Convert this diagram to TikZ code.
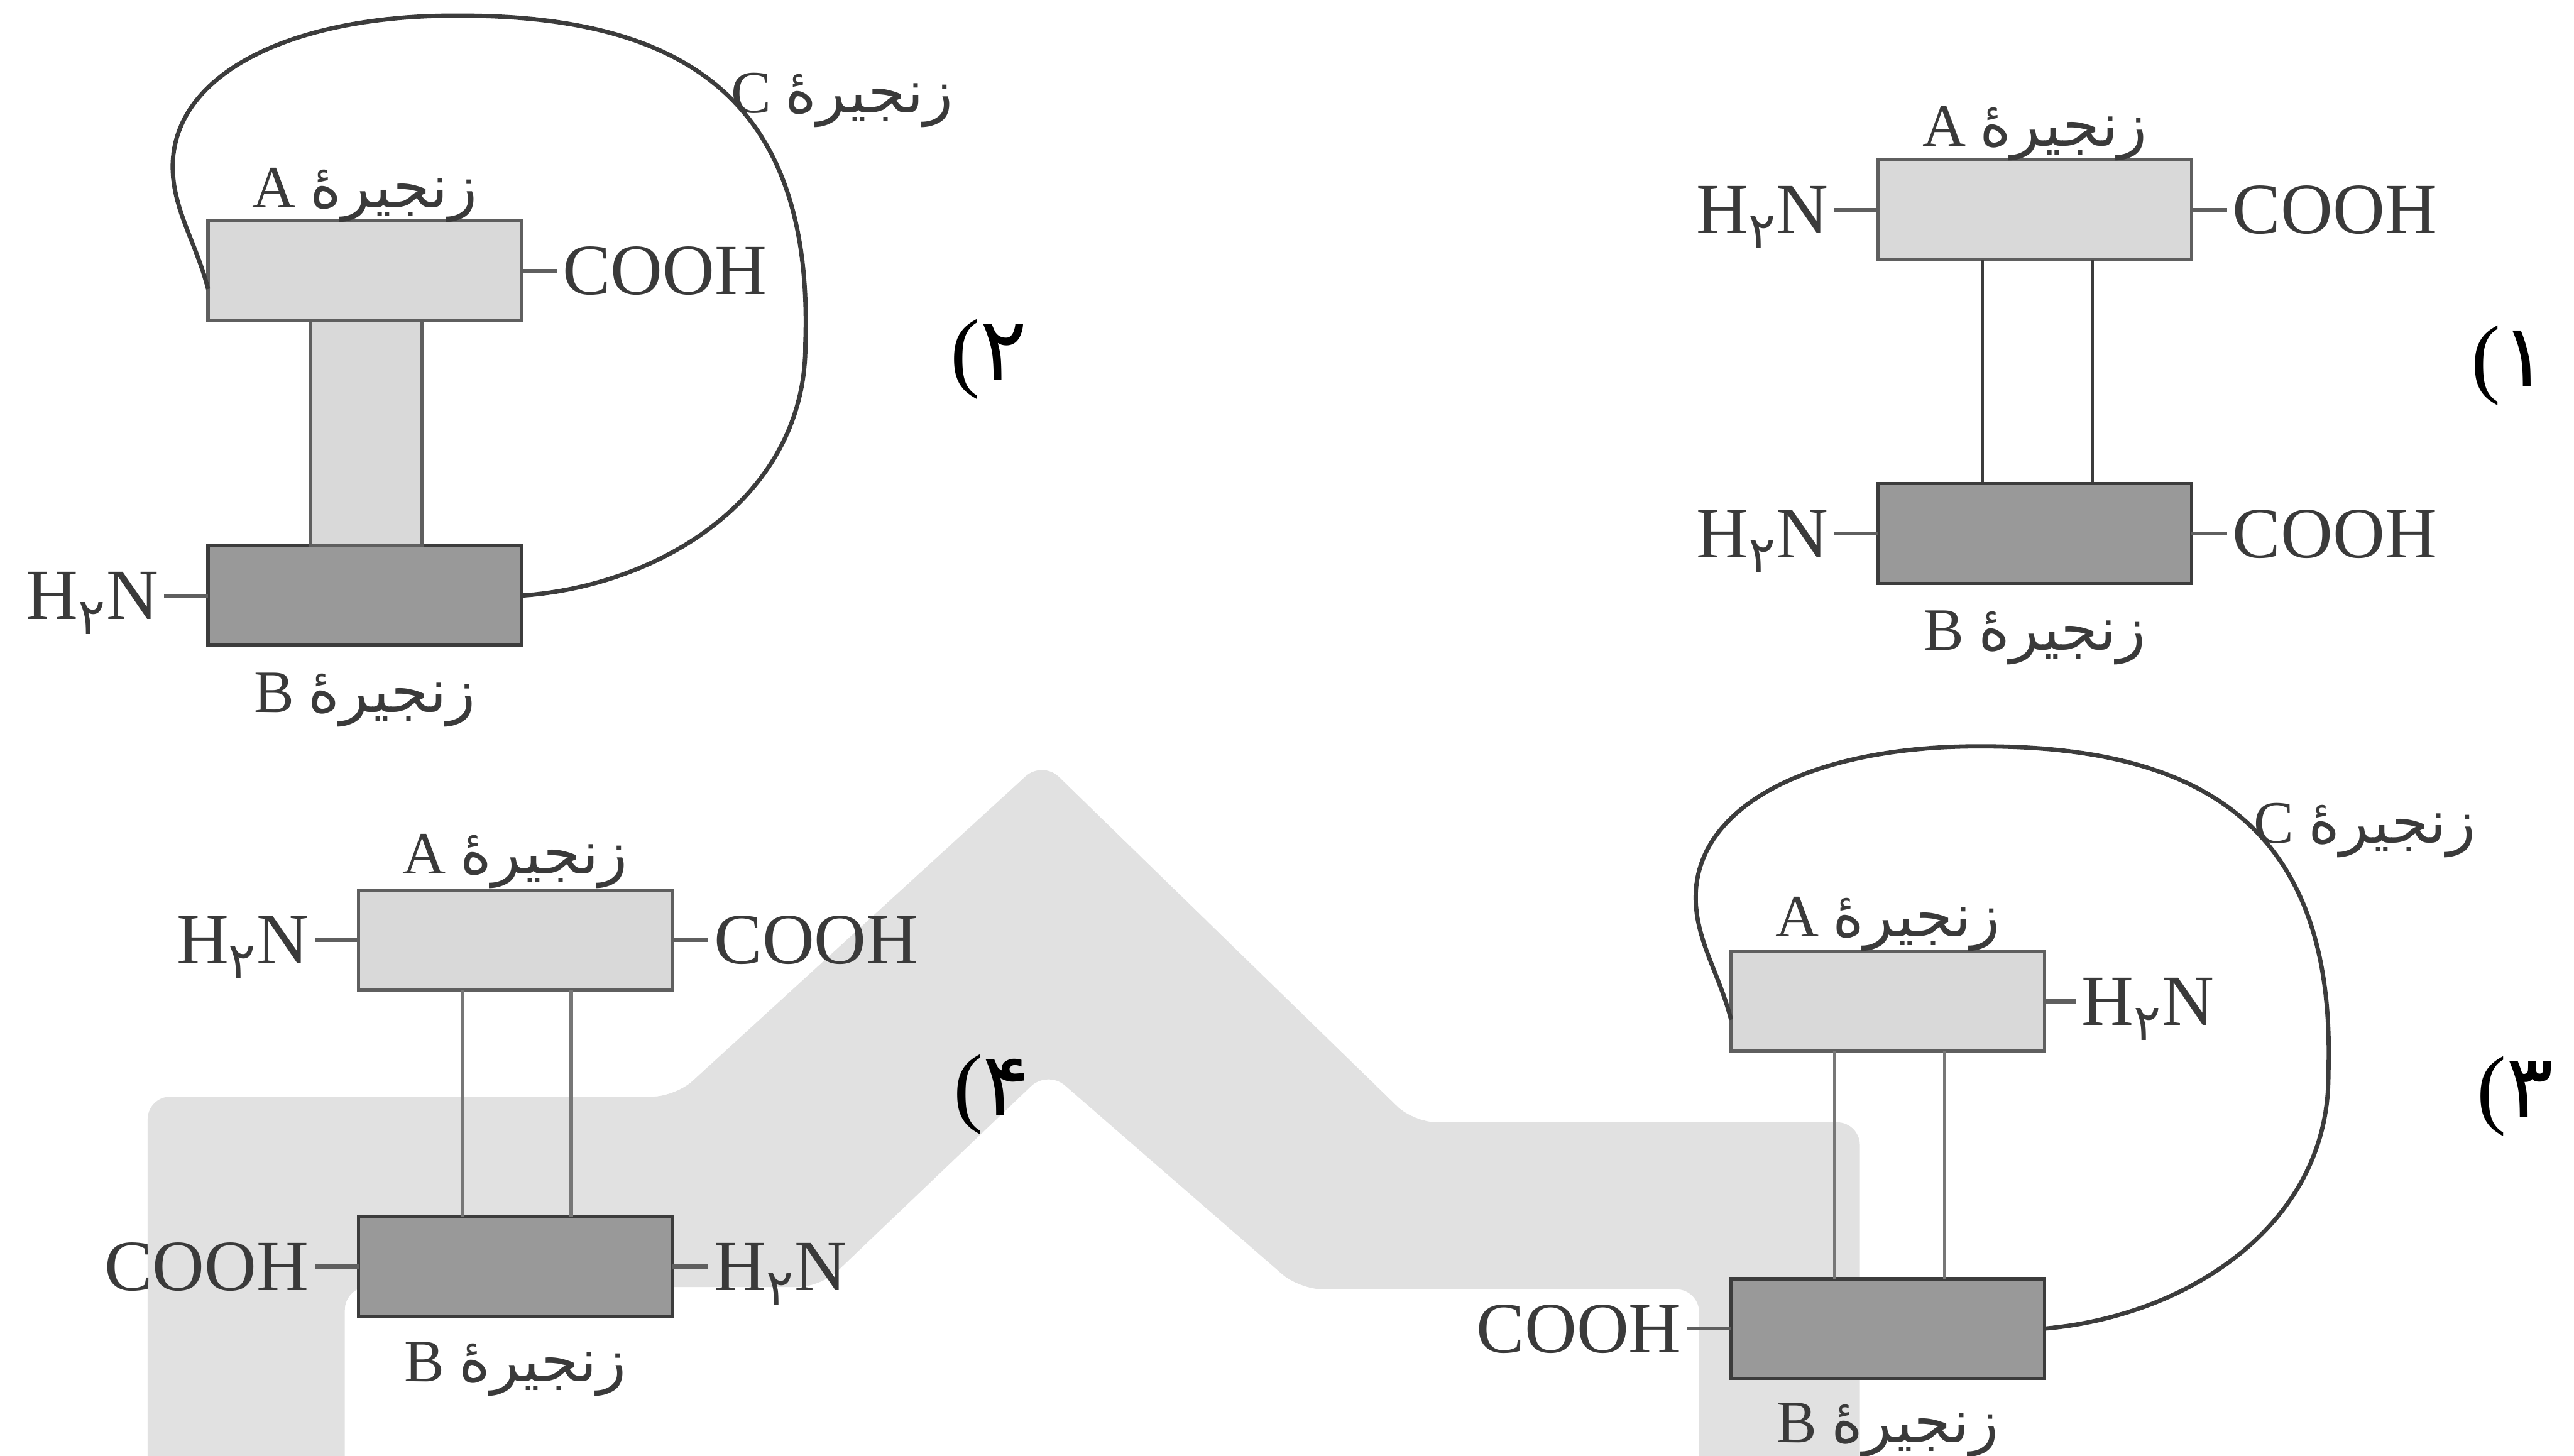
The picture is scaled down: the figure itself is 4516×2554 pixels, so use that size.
\documentclass[tikz,border=0pt]{standalone}
\usepackage{fontspec}
\setmainfont{Liberation Serif}
\newfontfamily\pfont[Script=Arabic]{DejaVu Sans}
\TeXXeTstate=1
\usetikzlibrary{positioning}

\definecolor{wmark}{HTML}{E1E1E1}
\definecolor{fillA}{HTML}{D9D9D9}
\definecolor{fillB}{HTML}{999999}
\definecolor{edgeA}{HTML}{5F5F5F}
\definecolor{edgeB}{HTML}{3C3C3C}
\definecolor{ink}{HTML}{3A3A3A}
\definecolor{bondgray}{HTML}{777777}

\newcommand\pers[1]{{\pfont\beginR #1\endR}}
\newcommand\amine{H\textsubscript{\pfont ۲}N}
\newcommand\zanjir[1]{#1\hspace{2.5mm}\pers{زنجیرهٔ}}

% loop of chain C, drawn from the A box round to the B box
\newcommand\loopC[2]{%
  \begin{scope}[shift={(#1.north west)}]
    \draw[cchain] ([yshift=-3.2mm]#1.west)
      .. controls (-20,-40) and (-62,20) .. (-62,95)
      .. controls (-62,260) and (150,362) .. (442,360)
      .. controls (850,360) and (1062,200) .. (1048,-215)
      .. controls (1050,-480) and (800,-640) .. (#2.east);
    \node[chainname, anchor=base west] (c#1) at (917,190) {\zanjir{C}};
  \end{scope}}

\begin{document}
\begin{tikzpicture}[x=0.1mm, y=0.1mm,
    strand/.style={rectangle, minimum width=55mm, minimum height=17.5mm,
      inner sep=0, outer sep=0, line width=0.6mm},
    light strand/.style={strand, fill=fillA, draw=edgeA},
    dark strand/.style={strand, fill=fillB, draw=edgeB},
    terminus/.style={font=\fontsize{36}{40}\selectfont, text=ink,
      inner sep=1mm, outer sep=0, text height=8.4mm, text depth=0pt},
    chainname/.style={font=\fontsize{30}{34}\selectfont, text=ink,
      inner sep=0, text height=7mm, text depth=0pt},
    num/.style={font=\fontsize{44}{48}\selectfont, text=black, inner sep=0},
    stub/.style={line width=0.7mm, draw=edgeA},
    bond/.style={line width=0.6mm, draw=#1},
    bridge/.style={line width=0.6mm, fill=fillA, draw=edgeA},
    cchain/.style={line width=0.75mm, draw=edgeB}]
  \useasboundingbox (0,0) rectangle (4516,-2554);

  \fill[wmark, rounded corners=4mm]
    (259,-2600) -- (259,-1924) -- (1185,-1924) -- (1829,-1335)
    -- (2480,-1969) -- (3263,-1969) -- (3263,-2600) -- (2981,-2600)
    -- (2981,-2262) -- (2280,-2262) -- (1838,-1878) -- (1440,-2258)
    -- (605,-2258) -- (605,-2600) -- cycle;

  % (1)
  \node[light strand] (A1) at (3570,-368) {};
  \node[dark strand] (B1) at (3570,-936) {};
  \draw[bond=edgeB] ([xshift=18.3mm]A1.south west) -- ([xshift=18.3mm]B1.north west);
  \draw[bond=edgeB] ([xshift=37.6mm]A1.south west) -- ([xshift=37.6mm]B1.north west);
  \node[terminus, left=7.7mm of A1] (nA1) {\amine};
  \node[terminus, right=6.2mm of A1] (cA1) {COOH};
  \node[terminus, left=7.7mm of B1] (nB1) {\amine};
  \node[terminus, right=6.2mm of B1] (cB1) {COOH};
  \draw[stub] (A1.west) -- (nA1.east) (A1.east) -- (cA1.west)
    (B1.west) -- (nB1.east) (B1.east) -- (cB1.west);
  \node[chainname, above=2.4mm of A1] (tA1) {\zanjir{A}};
  \node[chainname, below=4.6mm of B1] (tB1) {\zanjir{B}};
  \node[num] (p1) at (4403,-641) {(\pfont ۱};

  % (2)
  \node[light strand] (A2) at (640,-475) {};
  \node[dark strand] (B2) at (640,-1045) {};
  \draw[bridge] ([xshift=18mm]A2.south west) rectangle ([xshift=37.6mm]B2.north west);
  \node[terminus, right=6.2mm of A2] (cA2) {COOH};
  \node[terminus, left=7.7mm of B2] (nB2) {\amine};
  \draw[stub] (A2.east) -- (cA2.west) (B2.west) -- (nB2.east);
  \node[chainname, above=2.2mm of A2] (tA2) {\zanjir{A}};
  \node[chainname, below=4.6mm of B2] (tB2) {\zanjir{B}};
  \loopC{A2}{B2}
  \node[num] (p2) at (1735,-630) {(\pfont ۲};

  % (3)
  \node[light strand] (A3) at (3312,-1757) {};
  \node[dark strand] (B3) at (3312,-2331) {};
  \draw[bond=bondgray] ([xshift=18.2mm]A3.south west) -- ([xshift=18.2mm]B3.north west);
  \draw[bond=bondgray] ([xshift=37.5mm]A3.south west) -- ([xshift=37.5mm]B3.north west);
  \node[terminus, right=5.5mm of A3] (nA3) {\amine};
  \node[terminus, left=7.8mm of B3] (cB3) {COOH};
  \draw[stub] (A3.east) -- (nA3.west) (B3.west) -- (cB3.east);
  \node[chainname, above=2.6mm of A3] (tA3) {\zanjir{A}};
  \node[chainname, below=4.2mm of B3] (tB3) {\zanjir{B}};
  \loopC{A3}{B3}
  \node[num] (p3) at (4413,-1924) {(\pfont ۳};

  % (4)
  \node[light strand] (A4) at (904,-1649) {};
  \node[dark strand] (B4) at (904,-2222) {};
  \draw[bond=bondgray] ([xshift=18.3mm]A4.south west) -- ([xshift=18.3mm]B4.north west);
  \draw[bond=bondgray] ([xshift=37.3mm]A4.south west) -- ([xshift=37.3mm]B4.north west);
  \node[terminus, left=7.7mm of A4] (nA4) {\amine};
  \node[terminus, right=6.4mm of A4] (cA4) {COOH};
  \node[terminus, left=7.7mm of B4] (cB4) {COOH};
  \node[terminus, right=6.4mm of B4] (nB4) {\amine};
  \draw[stub] (A4.west) -- (nA4.east) (A4.east) -- (cA4.west)
    (B4.west) -- (cB4.east) (B4.east) -- (nB4.west);
  \node[chainname, above=2.8mm of A4] (tA4) {\zanjir{A}};
  \node[chainname, below=4.4mm of B4] (tB4) {\zanjir{B}};
  \node[num] (p4) at (1740,-1920) {(\pfont ۴};
\end{tikzpicture}
\end{document}
